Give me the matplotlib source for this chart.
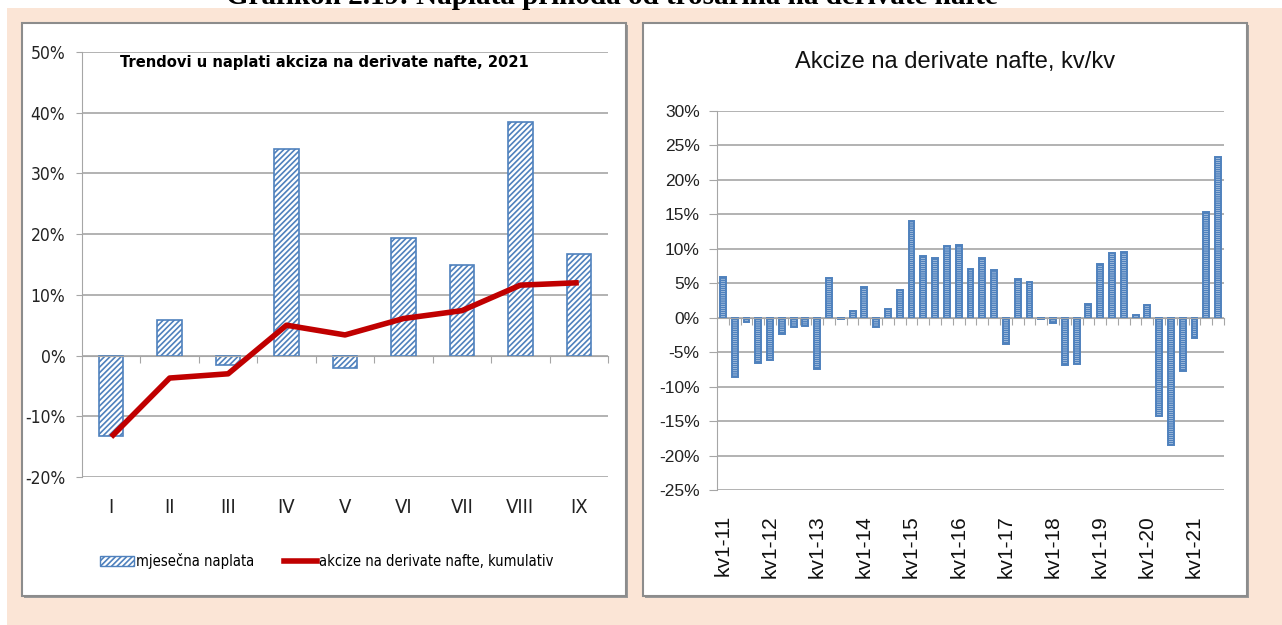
import matplotlib
matplotlib.use("Agg")
import matplotlib.pyplot as plt
from matplotlib.patches import Rectangle
from matplotlib import font_manager
from matplotlib.font_manager import FontProperties
import numpy as np

# left chart data (monthly, 2021)
months = ['I', 'II', 'III', 'IV', 'V', 'VI', 'VII', 'VIII', 'IX']
monthly = [-13.2, 5.9, -1.5, 34.1, -2.0, 19.4, 15.0, 38.5, 16.8]
cumulative = [-13.4, -3.7, -3.0, 5.0, 3.4, 6.1, 7.4, 11.6, 12.0]

# right chart data (quarter on quarter, kv1-11 .. kv3-21)
qoq = [5.9, -8.6, -0.6, -6.5, -6.2, -2.3, -1.4, -1.2, -7.4, 5.7,
       -0.2, 1.0, 4.5, -1.4, 1.3, 4.0, 14.1, 9.0, 8.6, 10.4,
       10.6, 7.1, 8.6, 6.9, -3.8, 5.6, 5.2, -0.2, -0.8, -6.9,
       -6.7, 2.0, 7.8, 9.4, 9.5, 0.4, 1.8, -14.3, -18.4, -7.8,
       -2.9, 15.4, 23.3]
year_labels = ['kv1-11', 'kv1-12', 'kv1-13', 'kv1-14', 'kv1-15', 'kv1-16',
               'kv1-17', 'kv1-18', 'kv1-19', 'kv1-20', 'kv1-21']

W, H = 1282, 625

# look for a narrow font (Calibri-like look), else fall back
def find_narrow(bold=False):
    best = None
    for f in font_manager.fontManager.ttflist:
        n = f.name.lower()
        cond = 'narrow' in n or 'condensed' in n or f.stretch in ('condensed', 'semi-condensed', 'extra-condensed')
        if not cond or f.style != 'normal':
            continue
        w = f.weight if isinstance(f.weight, int) else (700 if 'bold' in str(f.weight) else 400)
        if (w >= 600) != bold:
            continue
        if best is None or 'liberation' in n:
            best = f.fname
    return best

nf = find_narrow(False)
nfb = find_narrow(True)
if nf:
    fp_n = lambda s: FontProperties(fname=nf, size=s)
else:
    fp_n = lambda s: FontProperties(family='Liberation Sans', size=s * 0.85)
if nfb:
    fp_nb = lambda s: FontProperties(fname=nfb, size=s)
else:
    fp_nb = lambda s: FontProperties(family='Liberation Sans', weight='bold', size=s * 0.82)
arial = 'Liberation Sans'

blue = '#4f81bd'
red = '#c00000'
grid_c = '#a6a6a6'
peach = '#fbe5d6'
plt.rcParams['hatch.linewidth'] = 1.2

fig = plt.figure(figsize=(W / 100, H / 100), dpi=100)
fig.patch.set_facecolor('white')

def px_rect(x0, y0, x1, y1, **kw):
    # rectangle in pixel coords (y from top)
    r = Rectangle((x0 / W, 1 - y1 / H), (x1 - x0) / W, (y1 - y0) / H,
                  transform=fig.transFigure, **kw)
    fig.patches.append(r)

px_rect(7, 8, W + 5, H + 5, facecolor=peach, edgecolor='none', zorder=0)
for x0, x1 in [(22, 626), (643, 1247)]:
    px_rect(x0 + 2, 25, x1 + 2, 598, facecolor='#9a9a9a', edgecolor='none', zorder=1)
    px_rect(x0, 23, x1, 596, facecolor='white', edgecolor='#8c8c8c', lw=1.5, zorder=2)

fig.text(612 / W, 1 - 4 / H, 'Grafikon 2.19: Naplata prihoda od trošarina na derivate nafte',
         family='Liberation Serif', weight='bold', fontsize=21, ha='center', va='baseline')

def ax_px(x0, y0, x1, y1):
    return fig.add_axes([x0 / W, 1 - y1 / H, (x1 - x0) / W, (y1 - y0) / H])

# ---------------- left chart ----------------
ax = ax_px(82, 52, 608, 477)
ax.set_zorder(3)
ax.patch.set_alpha(0)
x = np.arange(len(months))
ax.bar(x, monthly, width=0.42, facecolor='white', edgecolor=blue, hatch='//////', lw=1.2, zorder=2)
ax.plot(x, cumulative, color=red, lw=4, solid_capstyle='butt', zorder=3)
ax.set_xlim(-0.5, len(months) - 0.5)
ax.set_ylim(-20, 50)
ax.set_yticks(np.arange(-20, 51, 10))
ax.set_yticklabels([f'{v}%' for v in range(-20, 51, 10)], fontproperties=fp_n(12.5), color='#222222')
ax.yaxis.grid(True, color=grid_c, lw=1.2)
ax.set_axisbelow(True)
for s in ['top', 'right']:
    ax.spines[s].set_visible(False)
ax.spines['left'].set_color(grid_c)
ax.spines['bottom'].set_position(('data', 0))
ax.spines['bottom'].set_color(grid_c)
ax.set_xticks(np.arange(len(months)) + 0.5)
ax.set_xticklabels([])
ax.tick_params(axis='x', length=5, color=grid_c)
ax.tick_params(axis='y', length=4, color=grid_c, pad=8)
sec = ax.secondary_xaxis('bottom')
sec.set_xticks(x)
sec.set_xticklabels(months, fontproperties=fp_n(14.5), color='#222222')
sec.tick_params(length=0, pad=15)
sec.spines['bottom'].set_visible(False)
ax.text(0.46, 0.975, 'Trendovi u naplati akciza na derivate nafte, 2021', transform=ax.transAxes,
        fontproperties=fp_nb(11.8), ha='center', va='center')
handles = [Rectangle((0, 0), 1, 1, facecolor='white', edgecolor=blue, hatch='//////'),
           plt.Line2D([], [], color=red, lw=4)]
fig.legend(handles, ['mjesečna naplata', 'akcize na derivate nafte, kumulativ'],
           loc='center', bbox_to_anchor=(327 / W, 1 - 561 / H), ncol=2, frameon=False,
           prop=fp_n(10.5), handlelength=2.3, handletextpad=0.15, columnspacing=2.0)

# ---------------- right chart ----------------
ax2 = ax_px(717, 111, 1224, 490)
ax2.set_zorder(3)
ax2.patch.set_alpha(0)
q = np.arange(len(qoq))
ax2.bar(q, qoq, width=0.5, facecolor='white', edgecolor=blue, hatch='--------', lw=1.4, zorder=2)
ax2.set_xlim(-0.5, len(qoq) - 0.5)
ax2.set_ylim(-25, 30)
ax2.set_yticks(np.arange(-25, 31, 5))
ax2.set_yticklabels([f'{v}%' for v in range(-25, 31, 5)], family=arial, fontsize=12.5, color='#222222')
ax2.yaxis.grid(True, color=grid_c, lw=1.2)
ax2.set_axisbelow(True)
for s in ['top', 'right']:
    ax2.spines[s].set_visible(False)
ax2.spines['left'].set_color(grid_c)
ax2.spines['bottom'].set_position(('data', 0))
ax2.spines['bottom'].set_color(grid_c)
ax2.set_xticks(np.arange(len(qoq)) + 0.5)
ax2.set_xticklabels([])
ax2.tick_params(axis='x', length=5, color=grid_c)
ax2.tick_params(axis='y', length=6, color=grid_c, pad=6.5)
sec2 = ax2.secondary_xaxis('bottom')
sec2.set_xticks(np.arange(0, len(qoq), 4))
sec2.set_xticklabels(year_labels, family=arial, fontsize=15, rotation=90, color='#111111')
sec2.tick_params(length=0, pad=18)
sec2.spines['bottom'].set_visible(False)
fig.text(955 / W, 1 - 62 / H, 'Akcize na derivate nafte, kv/kv', family=arial, fontsize=17,
         ha='center', va='center', color='#111111')

fig.savefig('out.png', dpi=100, facecolor=fig.get_facecolor())
